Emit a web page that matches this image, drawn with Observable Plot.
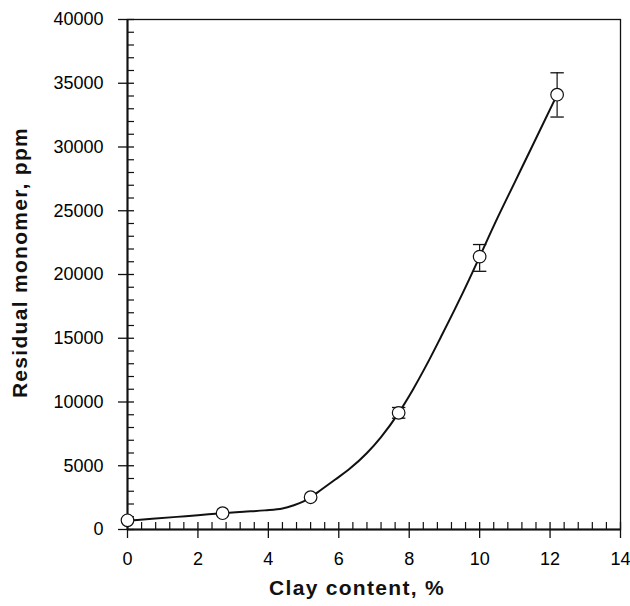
<!DOCTYPE html>
<html><head><meta charset="utf-8">
<script src="https://cdn.jsdelivr.net/npm/d3@7"></script>
<script src="https://cdn.jsdelivr.net/npm/@observablehq/plot@0.6"></script>
<style>body{margin:0;background:#fff} svg{display:block}</style>
</head><body><div id="chart"></div>
<script>
// Measured points
const clayContent = [0, 2.7, 5.2, 7.7, 10.0, 12.2];
const residualMonomer = [720, 1280, 2530, 9150, 21400, 34100];
const errorLow  = [null, null, null, 8730, 20250, 32350];
const errorHigh = [null, null, null, 9570, 22350, 35820];

// Smooth trend line
const curveClay =    [0, 0.7, 1.4, 2.0, 2.7, 3.3, 3.9, 4.4, 4.7, 5.0, 5.2, 5.5, 5.9, 6.3, 6.8, 7.2, 7.7, 8.1, 8.5, 8.9, 9.3, 9.7, 10.0, 10.5, 11.0, 11.5, 12.2];
const curveMonomer = [680, 835, 990, 1120, 1280, 1390, 1500, 1650, 1880, 2200, 2530, 3120, 3920, 4740, 6000, 7250, 9150, 10950, 12950, 15100, 17300, 19600, 21400, 24400, 27250, 30100, 34100];

// Axes
const xTicks = [0, 2, 4, 6, 8, 10, 12, 14];
const xMinorTicks = [0.4, 0.8, 1.2, 1.6, 2.4, 2.8, 3.2, 3.6, 4.4, 4.8, 5.2, 5.6, 6.4, 6.8, 7.2, 7.6, 8.4, 8.8, 9.2, 9.6, 10.4, 10.8, 11.2, 11.6, 12.4, 12.8, 13.2, 13.6];
const yTicks = [0, 5000, 10000, 15000, 20000, 25000, 30000, 35000, 40000];
const yMinorTicks = [1000, 2000, 3000, 4000, 6000, 7000, 8000, 9000, 11000, 12000, 13000, 14000, 16000, 17000, 18000, 19000, 21000, 22000, 23000, 24000, 26000, 27000, 28000, 29000, 31000, 32000, 33000, 34000, 36000, 37000, 38000, 39000];
const xTitle = "Clay content, %";
const yTitle = "Residual monomer, ppm";

const points = clayContent.map((x, i) => ({x, y: residualMonomer[i], lo: errorLow[i], hi: errorHigh[i]}));
const errs = points.filter(d => d.lo != null);
const curve = curveClay.map((x, i) => ({x, y: curveMonomer[i]}));

const W = 630, H = 606, ML = 127, MR = 10, MT = 19, MB = 77;
const PW = W - ML - MR, PH = H - MT - MB;

const capSymbol = {draw(ctx, size) { const r = Math.sqrt(size / Math.PI); ctx.moveTo(-r, 0); ctx.lineTo(r, 0); }};

const chart = Plot.plot({
  width: W, height: H,
  marginLeft: ML, marginRight: MR, marginTop: MT, marginBottom: MB,
  x: {domain: [0, 14]},
  y: {domain: [0, 40000]},
  style: {fontFamily: "'Liberation Sans', Arial, sans-serif", fontSize: "18px", background: "white", color: "black"},
  marks: [
    Plot.axisX({ticks: xTicks, tickSize: 0, tickPadding: 23, label: null, fontSize: 18}),
    Plot.axisY({ticks: yTicks, tickSize: 0, tickPadding: 24, label: null, fontSize: 18, tickFormat: d => String(d)}),
    Plot.ruleX(xMinorTicks, {x: d => d, insetTop: PH - 7, stroke: "#111", strokeWidth: 1.2}),
    Plot.ruleX(xTicks, {x: d => d, insetTop: PH - 7, insetBottom: -9, stroke: "#111", strokeWidth: 1.3}),
    Plot.ruleY(yMinorTicks, {y: d => d, insetRight: PW - 7, stroke: "#111", strokeWidth: 1.2}),
    Plot.ruleY(yTicks, {y: d => d, insetRight: PW - 7, insetLeft: -9, stroke: "#111", strokeWidth: 1.3}),
    Plot.frame({stroke: "#111", strokeWidth: 1.3}),
    Plot.ruleX([0], {stroke: "#111", strokeWidth: 2}),
    Plot.ruleY([0], {stroke: "#111", strokeWidth: 2}),
    Plot.ruleX(errs, {x: "x", y1: "lo", y2: "hi", stroke: "#111", strokeWidth: 1.2}),
    Plot.dot(errs, {x: "x", y: "lo", symbol: capSymbol, r: 6.7, fill: "none", stroke: "#111", strokeWidth: 1.3}),
    Plot.dot(errs, {x: "x", y: "hi", symbol: capSymbol, r: 6.7, fill: "none", stroke: "#111", strokeWidth: 1.3}),
    Plot.line(curve, {x: "x", y: "y", curve: "monotone-x", stroke: "#111", strokeWidth: 2}),
    Plot.dot(points, {x: "x", y: "y", r: 6.3, fill: "white", stroke: "#111", strokeWidth: 1.2}),
    Plot.text([xTitle], {frameAnchor: "bottom", textAnchor: "middle", lineAnchor: "middle", dx: -17, dy: 59, fontSize: 21, fontWeight: "bold", fill: "#111"}),
    Plot.text([yTitle], {frameAnchor: "left", textAnchor: "middle", lineAnchor: "middle", rotate: -90, dx: -107.5, dy: -12, fontSize: 21, fontWeight: "bold", fill: "#111"})
  ]
});
d3.select(chart).selectAll("text").filter(function() { return this.textContent === xTitle || this.textContent === yTitle; })
  .style("letter-spacing", "1.3px");
document.getElementById("chart").appendChild(chart);
</script>
</body></html>
